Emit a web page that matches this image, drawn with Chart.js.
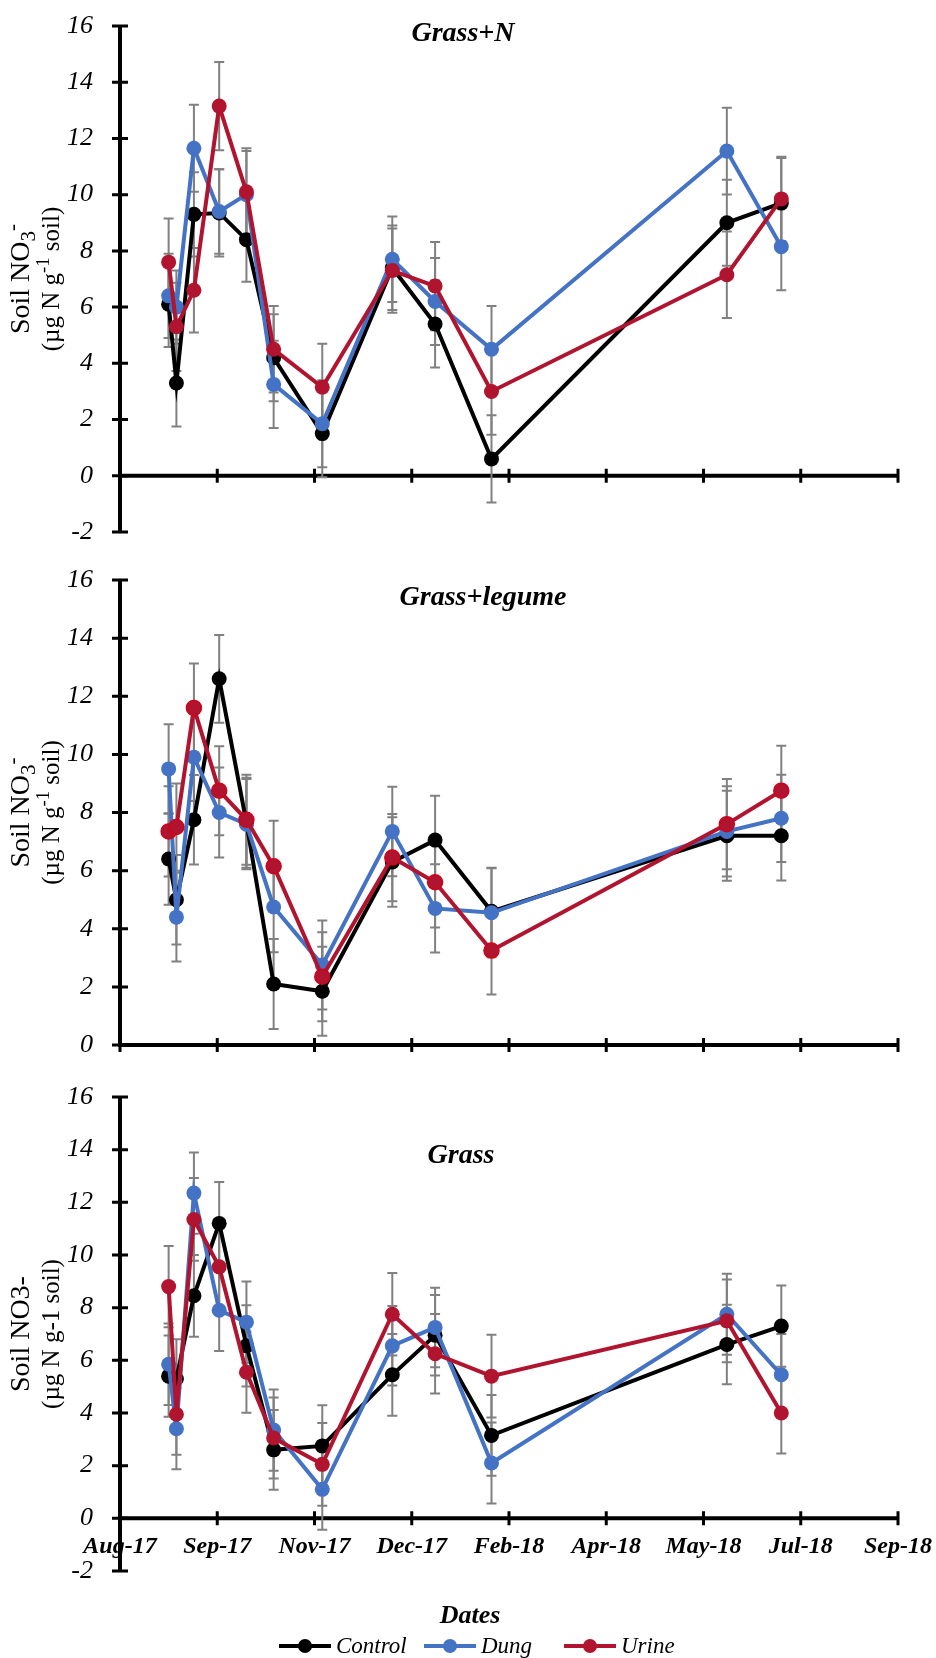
<!DOCTYPE html>
<html>
<head>
<meta charset="utf-8">
<script src="https://cdn.jsdelivr.net/npm/chart.js@4"></script>
<style>
  body { margin: 0; background: #ffffff; }
  canvas { position: absolute; left: 0; }
</style>
</head>
<body>
<canvas id="chartGrassN" width="936" height="555" style="top:0px"></canvas>
<canvas id="chartLegume" width="936" height="515" style="top:555px"></canvas>
<canvas id="chartGrass" width="936" height="588" style="top:1070px"></canvas>
<script>
// Sampling dates, shared by the three panels
var sampleDates = ["2017-08-26", "2017-08-30", "2017-09-08", "2017-09-21", "2017-10-05", "2017-10-19",
  "2017-11-13", "2017-12-19", "2018-01-10", "2018-02-08", "2018-06-09", "2018-07-07"];

// Date axis: days counted from 1 Aug 2017, one tick every 50 days
var axisStart = "2017-08-01";
var axisDays = 400;
var tickDays = 50;
var xTickLabels = ["Aug-17", "Sep-17", "Nov-17", "Dec-17", "Feb-18", "Apr-18", "May-18", "Jul-18", "Sep-18"];

// Grass+N
var grassNControl = [6.1, 3.3, 9.3, 9.35, 8.4, 4.2, 1.5, 7.4, 5.4, 0.6, 9.0, 9.7];
var grassNDung = [6.4, 6.0, 11.65, 9.4, 10.0, 3.25, 1.85, 7.7, 6.2, 4.5, 11.55, 8.15];
var grassNUrine = [7.6, 5.3, 6.6, 13.15, 10.1, 4.5, 3.15, 7.3, 6.75, 3.0, 7.15, 9.85];
var grassNControlErr = [1.52, 1.55, 1.5, 1.55, 1.5, 1.55, 1.55, 1.5, 1.55, 1.55, 1.53, 1.6];
var grassNDungErr = [1.5, 1.3, 1.55, 1.5, 1.55, 1.55, 1.55, 1.52, 1.55, 1.54, 1.54, 1.55];
var grassNUrineErr = [1.55, 1.57, 1.5, 1.57, 1.55, 1.54, 1.55, 1.5, 1.57, 1.54, 1.54, 1.5];

// Grass+legume
var legumeControl = [6.4, 5.0, 7.75, 12.6, 7.65, 2.1, 1.85, 6.3, 7.05, 4.6, 7.2, 7.2];
var legumeDung = [9.5, 4.4, 9.9, 8.0, 7.6, 4.75, 2.75, 7.35, 4.7, 4.55, 7.35, 7.8];
var legumeUrine = [7.35, 7.5, 11.6, 8.75, 7.75, 6.15, 2.35, 6.45, 5.6, 3.25, 7.6, 8.75];
var legumeControlErr = [1.57, 1.54, 1.54, 1.51, 1.55, 1.55, 1.53, 1.54, 1.53, 1.5, 1.55, 1.54];
var legumeDungErr = [1.54, 1.53, 1.5, 1.55, 1.55, 1.56, 1.53, 1.54, 1.52, 1.53, 1.55, 1.5];
var legumeUrineErr = [1.55, 1.5, 1.53, 1.53, 1.55, 1.57, 1.53, 1.5, 1.56, 1.51, 1.55, 1.55];

// Grass
var grassControl = [5.4, 5.3, 8.45, 11.2, 6.55, 2.6, 2.75, 5.45, 6.95, 3.15, 6.6, 7.3];
var grassDung = [5.85, 3.4, 12.35, 7.9, 7.45, 3.35, 1.1, 6.55, 7.25, 2.1, 7.75, 5.45];
var grassUrine = [8.8, 3.95, 11.35, 9.55, 5.55, 3.05, 2.05, 7.75, 6.25, 5.4, 7.5, 4.0];
var grassControlErr = [1.54, 1.5, 1.55, 1.57, 1.54, 1.51, 1.54, 1.55, 1.53, 1.53, 1.51, 1.54];
var grassDungErr = [1.55, 1.54, 1.54, 1.55, 1.54, 1.54, 1.53, 1.51, 1.51, 1.54, 1.54, 1.55];
var grassUrineErr = [1.54, 1.54, 1.57, 1.55, 1.54, 1.54, 1.57, 1.57, 1.51, 1.57, 1.57, 1.54];

var serif = "'Liberation Serif', 'Times New Roman', serif";

function dayOf(s) {
  return (Date.parse(s) - Date.parse(axisStart)) / 86400000;
}

function points(values) {
  return sampleDates.map(function (d, i) {
    return { x: dayOf(d), y: values[i] };
  });
}

function series(label, values, errors, color, order, markerBorder) {
  return {
    label: label,
    data: points(values),
    errorBars: errors,
    borderColor: color,
    backgroundColor: color,
    borderWidth: 4,
    pointRadius: 7.5,
    pointBackgroundColor: color,
    pointBorderColor: markerBorder || color,
    pointBorderWidth: markerBorder ? 1.5 : 0,
    tension: 0,
    fill: false,
    order: order,
  };
}

// Axis lines with Excel style "cross" tick marks, x axis sits on y = 0
var crossAxes = {
  id: "crossAxes",
  beforeDatasetsDraw: function (chart, args, opts) {
    var ctx = chart.ctx;
    var xs = chart.scales.x;
    var ys = chart.scales.y;
    var left = xs.getPixelForValue(0);
    var right = xs.getPixelForValue(axisDays);
    var zero = ys.getPixelForValue(0);
    ctx.save();
    ctx.strokeStyle = "#000000";
    ctx.lineWidth = 4;
    ctx.beginPath();
    ctx.moveTo(left, ys.getPixelForValue(ys.max) - 1);
    ctx.lineTo(left, ys.getPixelForValue(ys.min) + 1);
    ctx.moveTo(left - 2, zero);
    ctx.lineTo(right + 1, zero);
    ctx.stroke();
    ctx.lineWidth = 3;
    ctx.beginPath();
    for (var v = ys.min; v <= ys.max; v += 2) {
      var py = ys.getPixelForValue(v);
      ctx.moveTo(left - 8, py);
      ctx.lineTo(left + 8, py);
    }
    for (var d = 0; d <= axisDays; d += tickDays) {
      var px = xs.getPixelForValue(d);
      ctx.moveTo(px, zero - 7);
      ctx.lineTo(px, zero + 7);
    }
    ctx.stroke();

    // date labels only under the bottom panel
    if (opts.labels) {
      ctx.fillStyle = "#000000";
      ctx.textAlign = "center";
      ctx.textBaseline = "middle";
      ctx.font = "bold italic 24px " + serif;
      xTickLabels.forEach(function (lab, i) {
        ctx.fillText(lab, xs.getPixelForValue(i * tickDays), zero + 28);
      });
    }
    ctx.restore();
  },
};

// Grey +/- error bars with caps
var errorBars = {
  id: "errorBars",
  beforeDatasetsDraw: function (chart) {
    var ctx = chart.ctx;
    var ys = chart.scales.y;
    ctx.save();
    ctx.strokeStyle = "#808080";
    ctx.lineWidth = 2;
    chart.data.datasets.forEach(function (ds, di) {
      var meta = chart.getDatasetMeta(di);
      ds.data.forEach(function (p, i) {
        var e = ds.errorBars[i];
        var px = meta.data[i].x;
        var top = ys.getPixelForValue(p.y + e);
        var bot = ys.getPixelForValue(p.y - e);
        ctx.beginPath();
        ctx.moveTo(px, top);
        ctx.lineTo(px, bot);
        ctx.moveTo(px - 5, top);
        ctx.lineTo(px + 5, top);
        ctx.moveTo(px - 5, bot);
        ctx.lineTo(px + 5, bot);
        ctx.stroke();
      });
    });
    ctx.restore();
  },
};

function drawRuns(ctx, runs, cx, cy, size) {
  ctx.save();
  ctx.translate(cx, cy);
  ctx.rotate(-Math.PI / 2);
  ctx.textBaseline = "middle";
  ctx.textAlign = "left";
  var total = 0;
  var widths = [];
  runs.forEach(function (r) {
    ctx.font = (r[1] ? size * 0.75 : size) + "px " + serif;
    var w = ctx.measureText(r[0]).width;
    widths.push(w);
    total += w;
  });
  var x = -total / 2;
  runs.forEach(function (r, i) {
    ctx.font = (r[1] ? size * 0.75 : size) + "px " + serif;
    var dy = r[1] === "sub" ? size * 0.25 : r[1] === "sup" ? -size * 0.32 : 0;
    ctx.fillText(r[0], x, dy);
    x += widths[i];
  });
  ctx.restore();
}

// Panel title, y axis title and (bottom panel only) axis name and legend
var panelText = {
  id: "panelText",
  afterDraw: function (chart, args, opts) {
    var ctx = chart.ctx;
    var ys = chart.scales.y;
    var mid = (ys.top + ys.bottom) / 2;
    ctx.save();
    ctx.fillStyle = "#000000";
    ctx.textAlign = "center";
    ctx.textBaseline = "middle";
    ctx.font = "bold italic 28px " + serif;
    ctx.fillText(opts.title, opts.titleX, opts.titleY);
    drawRuns(ctx, opts.line1, 22, mid, 28);
    drawRuns(ctx, opts.line2, 52, mid, 25);

    if (opts.footer) {
      ctx.font = "bold italic 26px " + serif;
      ctx.textAlign = "center";
      ctx.fillText("Dates", 470, ys.bottom + 45);
      var ly = ys.bottom + 75;
      var mx = [305, 450, 590];
      chart.data.datasets.forEach(function (ds, i) {
        ctx.strokeStyle = ds.borderColor;
        ctx.lineWidth = 4;
        ctx.beginPath();
        ctx.moveTo(mx[i] - 26, ly);
        ctx.lineTo(mx[i] + 26, ly);
        ctx.stroke();
        ctx.fillStyle = ds.borderColor;
        ctx.beginPath();
        ctx.arc(mx[i], ly, 7, 0, Math.PI * 2);
        ctx.fill();
        ctx.fillStyle = "#000000";
        ctx.textAlign = "left";
        ctx.font = "italic 23px " + serif;
        ctx.fillText(ds.label, mx[i] + 31, ly + 1);
      });
    }
    ctx.restore();
  },
};

function makeChart(id, panel) {
  return new Chart(document.getElementById(id), {
    type: "line",
    data: {
      datasets: [
        series("Control", panel.control, panel.controlErr, "#000000", 3),
        series("Dung", panel.dung, panel.dungErr, "#4472C4", 2),
        series("Urine", panel.urine, panel.urineErr, "#B0142F", 1, panel.urineBorder),
      ],
    },
    options: {
      responsive: false,
      animation: false,
      devicePixelRatio: 1,
      layout: { padding: { left: 0, right: 38, top: panel.padTop, bottom: panel.padBottom } },
      scales: {
        x: { type: "linear", min: 0, max: axisDays, display: false },
        y: {
          min: panel.yMin,
          max: 16,
          afterFit: function (scale) { scale.width = 120; },
          // invisible tick marks push the labels away from the axis
          grid: { display: true, drawOnChartArea: false, drawTicks: true, tickLength: 27, color: "rgba(0,0,0,0)" },
          border: { display: false },
          ticks: {
            stepSize: 2,
            padding: 0,
            color: "#000000",
            font: { family: serif, size: 26, style: "italic" },
            callback: function (value) { return String(value); },
          },
        },
      },
      plugins: {
        legend: { display: false },
        tooltip: { enabled: false },
        crossAxes: { labels: !!panel.text.footer },
        panelText: panel.text,
      },
    },
    plugins: [crossAxes, errorBars, panelText],
  });
}

var subLine1 = [["Soil NO", ""], ["3", "sub"], ["-", "sup"]];
var subLine2 = [["(\u00b5g N g", ""], ["-1", "sup"], [" soil)", ""]];

makeChart("chartGrassN", {
  control: grassNControl, dung: grassNDung, urine: grassNUrine,
  controlErr: grassNControlErr, dungErr: grassNDungErr, urineErr: grassNUrineErr,
  yMin: -2, padTop: 26, padBottom: 23,
  text: { title: "Grass+N", titleX: 463, titleY: 34, line1: subLine1, line2: subLine2 },
});

makeChart("chartLegume", {
  control: legumeControl, dung: legumeDung, urine: legumeUrine,
  controlErr: legumeControlErr, dungErr: legumeDungErr, urineErr: legumeUrineErr,
  urineBorder: "#D0021B",
  yMin: 0, padTop: 25, padBottom: 25,
  text: { title: "Grass+legume", titleX: 483, titleY: 43, line1: subLine1, line2: subLine2 },
});

makeChart("chartGrass", {
  control: grassControl, dung: grassDung, urine: grassUrine,
  controlErr: grassControlErr, dungErr: grassDungErr, urineErr: grassUrineErr,
  yMin: -2, padTop: 27, padBottom: 87,
  text: {
    title: "Grass", titleX: 461, titleY: 86,
    line1: [["Soil NO3-", ""]], line2: [["(\u00b5g N g-1 soil)", ""]],
    footer: true,
  },
});
</script>
</body>
</html>
